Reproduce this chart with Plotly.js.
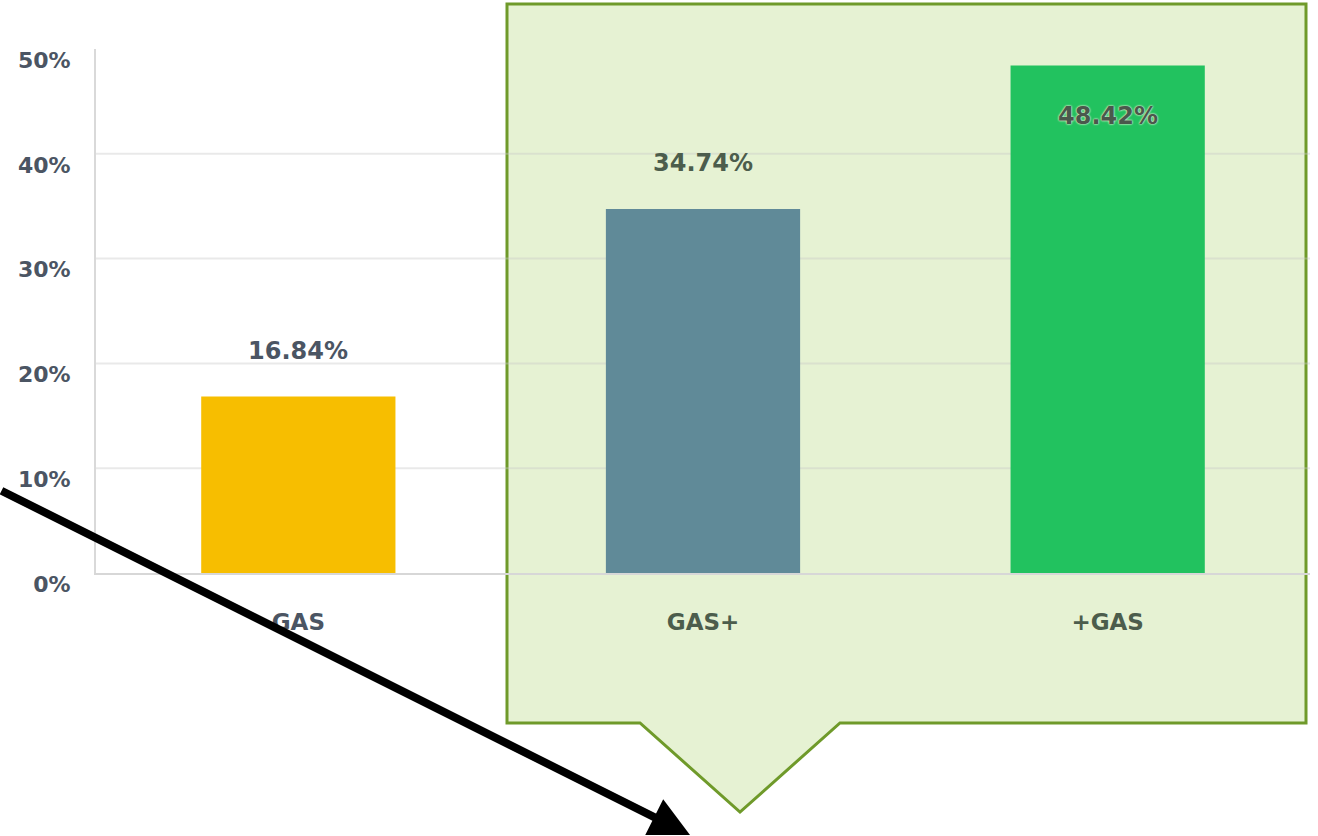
<!DOCTYPE html>
<html><head><meta charset="utf-8">
<script src="https://cdn.plot.ly/plotly-3.0.1.min.js"></script>
<style>html,body{margin:0;padding:0;background:#fff}</style>
</head><body><div id="chart" style="width:1318px;height:836px"></div>
<script>
const categories = ['GAS', 'GAS+', '+GAS'];
const values = [16.84, 34.74, 48.42];
const valueLabels = ['16.84%', '34.74%', '48.42%'];
const barColors = ['#f7be00', '#608a98', '#22c25f'];
const yTicks = [0, 10, 20, 30, 40, 50];
const yTickLabels = ['0%', '10%', '20%', '30%', '40%', '50%'];
const gridValues = [10, 20, 30, 40];

const W = 1318, H = 836, L = 96, R = 8, T = 49, B = 263;
const pw = W - L - R, ph = H - T - B;
const px = x => ((x - L) / pw).toFixed(5);
const py = y => ((H - B - y) / ph).toFixed(5);

const FONT = 'DejaVu Sans, Verdana, sans-serif';
const gray = '#4b5563';
const greenGray = '#4c5d4c';

const calloutPts = [[507,4],[1306,4],[1306,723],[840,723],[740,812],[640,723],[507,723]];
const calloutPath = 'M ' + calloutPts.map(p => px(p[0]) + ',' + py(p[1])).join(' L ') + ' Z';

const shapes = [{
  type: 'path', xref: 'paper', yref: 'paper', layer: 'below',
  path: calloutPath, fillcolor: '#e6f2d3',
  line: {color: '#6f9a2a', width: 3}
}];
gridValues.forEach(v => shapes.push({
  type: 'line', xref: 'paper', yref: 'y', x0: 0, x1: 1, y0: v, y1: v, layer: 'below',
  line: {color: 'rgba(200,200,200,0.4)', width: 2}
}));

const labelColors = [gray, greenGray, '#4a584c'];
const annotations = values.map((v, i) => ({
  x: categories[i], y: v, xref: 'x', yref: 'y',
  text: valueLabels[i], showarrow: false,
  yshift: i === 2 ? -50 : 46,
  font: {family: FONT, size: 24, color: labelColors[i], weight: 'bold',
         shadow: i === 2 ? '0 0 2px #e6f2d3, 0 0 2px #e6f2d3' : 'none'}
}));
annotations.push({
  xref: 'paper', yref: 'paper', x: +px(690), y: +py(848),
  axref: 'pixel', ayref: 'pixel', ax: -690, ay: -358,
  text: '', showarrow: true, arrowhead: 2, arrowsize: 1, arrowwidth: 8,
  arrowcolor: '#000000', standoff: 0
});

const tickText = categories.map((c, i) => i === 0 ? c : '<span style="color:' + greenGray + '">' + c + '</span>');

const data = [{
  type: 'bar', x: categories, y: values,
  marker: {color: barColors}, width: 0.48,
  hoverinfo: 'skip'
}];

const layout = {
  width: W, height: H,
  margin: {l: L, r: R, t: T, b: B, pad: 0},
  paper_bgcolor: '#ffffff', plot_bgcolor: 'rgba(0,0,0,0)',
  showlegend: false,
  xaxis: {
    range: [-0.5, 2.5], tickmode: 'array', tickvals: categories, ticktext: tickText,
    showgrid: false, zeroline: false, showline: true, linecolor: '#d7d7d7', linewidth: 2,
    ticks: '', ticklabelstandoff: 27,
    tickfont: {family: FONT, size: 23, color: gray, weight: 'bold'}
  },
  yaxis: {
    range: [0, 50], tickmode: 'array', tickvals: yTicks, ticktext: yTickLabels,
    showgrid: false, zeroline: false, showline: true, linecolor: '#d9d9d9', linewidth: 2,
    ticks: '', ticklabelstandoff: 19, ticklabelshift: 11,
    tickfont: {family: FONT, size: 22, color: gray, weight: 'bold'}
  },
  shapes: shapes,
  annotations: annotations
};

Plotly.newPlot('chart', data, layout, {displayModeBar: false, staticPlot: true});
</script></body></html>
